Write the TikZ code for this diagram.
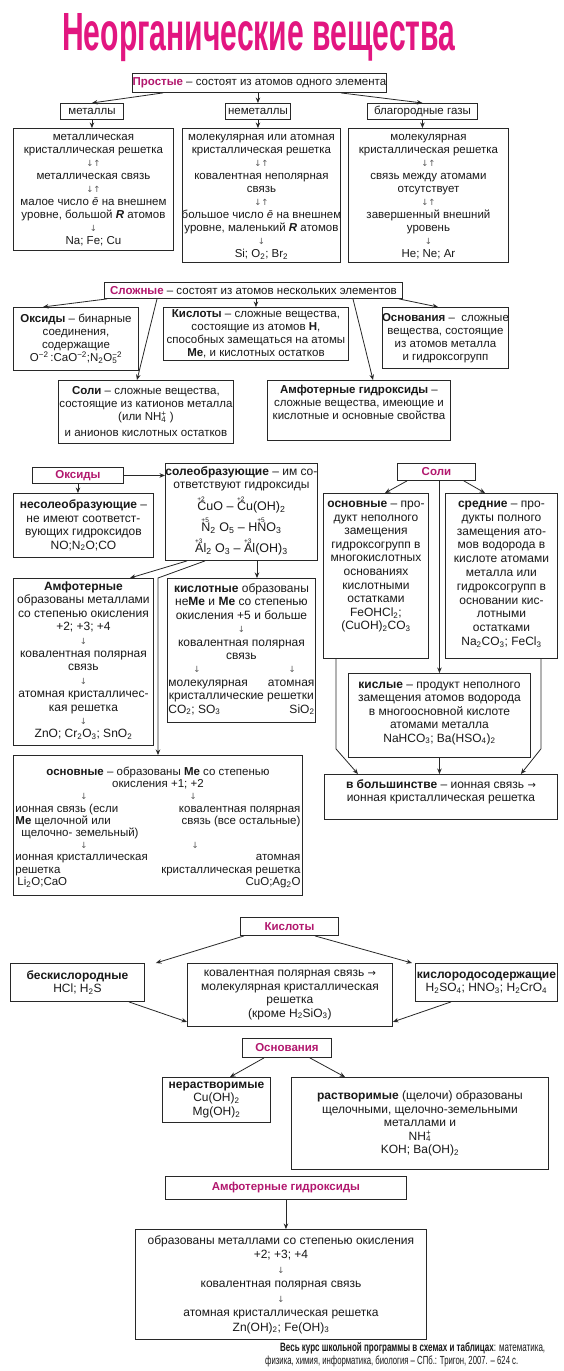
\documentclass[tikz,border=0pt]{standalone}
\usepackage{fontspec}
\usepackage{graphicx}
\setmainfont{Liberation Sans}
\newfontfamily\dv{DejaVu Sans}
\usetikzlibrary{arrows.meta,calc}
\definecolor{mag}{RGB}{178,24,110}
\definecolor{titlec}{RGB}{226,22,128}
\definecolor{lc}{RGB}{40,40,40}
\definecolor{tc}{RGB}{25,25,25}
\definecolor{ac}{RGB}{90,90,90}
\newcommand\fs{\fontsize{11.5pt}{13pt}\selectfont}
\newcommand\fm{\fontsize{12pt}{13.4pt}\selectfont}
\newcommand\da{{\dv\fontsize{8.5pt}{8.5pt}\selectfont\color{ac}↓}}
\newcommand\ua{{\dv\fontsize{8.5pt}{8.5pt}\selectfont\color{ac}↓↑}}
\newcommand\rarr{{\dv\fontsize{10pt}{10pt}\selectfont →}}
\newcommand\sub[1]{\textsubscript{#1}}
\newcommand\sups[1]{\textsuperscript{#1}}
\newcommand\lbl[1]{{\color{mag}\textbf{#1}}}
\newcommand\oxn[2]{\makebox[0pt][l]{\raisebox{9pt}{\fontsize{6.5pt}{6.5pt}\selectfont #1}}#2}
\tikzset{
  bxs/.style={draw=lc, line width=0.9pt, inner sep=0pt, anchor=north west, font=\fs, text=tc},
  arr/.style={draw=lc, line width=0.8pt, -{Stealth[length=5.5pt,width=4.5pt]}},
}
% name, x1, y1, x2, y2, vertical position (c/t), top pad, content
\newcommand\bx[8]{%
  \pgfmathsetmacro\bxw{#4-#2}%
  \pgfmathsetmacro\bxh{#5-#3}%
  \pgfmathsetmacro\bxp{#4-#2+24}%
  \node[bxs, minimum width=\bxw pt, minimum height=\bxh pt] (#1) at (#2,#3)
   {\makebox[0pt]{\parbox[c][\bxh pt][#6]{\bxp pt}{\centering\vspace*{#7pt}#8}}};%
}
\newcommand\st{\rule{0pt}{9pt}}
\begin{document}
\begin{tikzpicture}[x=1pt,y=-1pt]
\useasboundingbox (0,0) rectangle (564,1371);
\fill[white] (0,0) rectangle (564,1371);

\node[anchor=base west, inner sep=0pt, text=titlec] (title) at (62,50)
  {\resizebox{393pt}{37pt}{\bfseries Неорганические вещества}};

% ---------- Простые ----------
\bx{prost}{132}{73}{386}{92}{c}{0}{\lbl{Простые} – состоят из атомов одного элемента}
\bx{met}{60}{103}{123}{119}{c}{0}{металлы}
\bx{nonmet}{225}{103}{290}{119}{c}{0}{неметаллы}
\bx{noble}{367}{103}{477}{119}{c}{0}{благородные газы}
\bx{b1}{13}{128}{173}{250}{t}{3}{\st металлическая\\ кристаллическая решетка\\ \ua\\ металлическая связь\\ \ua\\ малое число \textit{ē} на внешнем\\ уровне, большой \textbf{\textit{R}} атомов\\ \da\\ Na; Fe; Cu}
\bx{b2}{182}{128}{340}{262}{t}{3}{\st молекулярная или атомная\\ кристаллическая решетка\\ \ua\\ ковалентная неполярная\\ связь\\ \ua\\ большое число \textit{ē} на внешнем\\ уровне, маленький \textbf{\textit{R}} атомов\\ \da\\ Si; O\sub{2}; Br\sub{2}}
\bx{b3}{348}{128}{508}{262}{t}{3}{\st молекулярная\\ кристаллическая решетка\\ \ua\\ связь между атомами\\ отсутствует\\ \ua\\ завершенный внешний\\ уровень\\ \da\\ He; Ne; Ar}
\draw[arr] ([xshift=31pt]prost.south west) -- (met.north);
\draw[arr] (nonmet.north |- prost.south) -- (nonmet.north);
\draw[arr] ([xshift=-46pt]prost.south east) -- (noble.north);
\draw[arr] (met.south) -- (met.south |- b1.north);
\draw[arr] (nonmet.south) -- (nonmet.south |- b2.north);
\draw[arr] (noble.south) -- (noble.south |- b3.north);

% ---------- Сложные ----------
\bx{slozh}{104}{282}{402}{298}{c}{0}{\lbl{Сложные} – состоят из атомов нескольких элементов}
\bx{oks2}{13}{307}{138}{370}{c}{0}{\textbf{Оксиды} – бинарные\\ соединения,\\ содержащие\\ O\sups{−2}\,:CaO\sups{−2};N\sub{2}O\rlap{\sub{5}}\sups{−2}}
\bx{kis2}{163}{307}{348}{360}{c}{0}{\textbf{Кислоты} – сложные вещества,\\ состоящие из атомов \textbf{H},\\ способных замещаться на атомы\\ \textbf{Me}, и кислотных остатков}
\bx{osn2}{382}{307}{508}{368}{c}{0}{\textbf{Основания} –\ \ сложные\\ вещества, состоящие\\ из атомов металла\\ и гидроксогрупп}
\bx{soli2}{58}{380}{233}{443}{c}{0}{\textbf{Соли} – сложные вещества,\\ состоящие из катионов металла\\ (или NH\rlap{\sub{4}}\sups{+} )\\[3pt] и анионов кислотных остатков}
\bx{amf2}{267}{380}{450}{440}{t}{4}{\st\textbf{Амфотерные гидроксиды} –\\ сложные вещества, имеющие и\\ кислотные и основные свойства}
\draw[arr] ([xshift=3pt]slozh.south west) -- ([xshift=30pt]oks2.north west);
\draw[arr] ([xshift=53pt]slozh.south west) -- ([xshift=79pt]soli2.north west);
\draw[arr] (kis2.north |- slozh.south) -- (kis2.north);
\draw[arr] ([xshift=249pt]slozh.south west) -- ([xshift=106pt]amf2.north west);
\draw[arr] ([xshift=-4pt]slozh.south east) -- ([xshift=56pt]osn2.north west);

% ---------- Оксиды ----------
\bx{oxh}{32}{467}{123}{483}{c}{0}{\lbl{Оксиды}}
\bx{soleo}{165}{463}{317}{560}{t}{3}{\fm\st\textbf{солеобразующие} – им со-\\ ответствуют гидроксиды\\[5pt]
 {\fontsize{12.5pt}{13pt}\selectfont \oxn{+2}{C}uO – \oxn{+2}{C}u(OH)\sub{2}}\\[4pt]
 {\fontsize{12.5pt}{13pt}\selectfont \oxn{+5}{N}\sub{2} O\sub{5} – H\oxn{+5}{N}O\sub{3}}\\[4pt]
 {\fontsize{12.5pt}{13pt}\selectfont \oxn{+3}{A}l\sub{2} O\sub{3} – \oxn{+3}{A}l(OH)\sub{3}}}
\bx{nesol}{13}{493}{153}{557}{c}{0}{\fm\textbf{несолеобразующие} –\\ не имеют соответст-\\ вующих гидроксидов\\ NO;N\sub{2}O;CO}
\bx{amf3}{13}{578}{153}{745}{t}{3}{\fm\st\textbf{Амфотерные}\\ образованы металлами\\ со степенью окисления\\ +2; +3; +4\\ \da\\ ковалентная полярная\\ связь\\ \da\\ атомная кристалличес-\\ кая решетка\\ \da\\ ZnO; Cr\sub{2}O\sub{3}; SnO\sub{2}}
\bx{kisl3}{167}{578}{315}{722}{t}{5}{\fm\st\textbf{кислотные} образованы\\ не\textbf{Me} и \textbf{Me} со степенью\\ окисления +5 и больше\\ \da\\ ковалентная полярная\\ связь\\
 \makebox[148pt][l]{\hspace*{26pt}\da\hspace*{88pt}\da}\\
 \makebox[146pt][l]{молекулярная\hfill атомная}\\ кристаллические решетки\\
 \makebox[146pt][l]{CO\sub{2}; SO\sub{3}\hfill SiO\sub{2}}}
\bx{osn3}{13}{755}{302}{895}{t}{11}{\fontsize{11.5pt}{12.2pt}\selectfont\st
 \textbf{основные} – образованы \textbf{Me} со степенью\\
 окисления +1; +2\\
 \makebox[285pt][l]{\hspace*{65pt}\da\hspace*{102pt}\da}\\
 \makebox[285pt][l]{ионная связь (если\hfill ковалентная полярная}\\
 \makebox[285pt][l]{\textbf{Me} щелочной или\hfill связь (все остальные)}\\
 \makebox[285pt][l]{\hspace*{6pt}щелочно- земельный)\hfill}\\
 \makebox[285pt][l]{\hspace*{65pt}\da\hspace*{104pt}\da}\\
 \makebox[285pt][l]{ионная кристаллическая\hfill атомная}\\
 \makebox[285pt][l]{решетка\hfill кристаллическая решетка}\\
 \makebox[285pt][l]{\hspace*{2pt}Li\sub{2}O;CaO\hfill CuO;Ag\sub{2}O}}
\coordinate (va) at ([xshift=90pt]kisl3.north west);
\coordinate (vx) at ([xshift=145pt]osn3.north west);
\draw[arr] (oxh.east) -- (oxh.east -| soleo.west);
\draw[arr] (oxh.south) -- (oxh.south |- nesol.north);
\draw[arr] ([xshift=22pt]soleo.south west) -- ([xshift=117pt]amf3.north west);
\draw[arr] ([xshift=40pt]soleo.south west) -- (vx |- amf3.north) -- (vx);
\draw[arr] (va |- soleo.south) -- (va);

% ---------- Соли ----------
\bx{solh}{397}{463}{475}{480}{c}{0}{\lbl{Соли}}
\bx{osns}{323}{493}{428}{658}{t}{5}{\fontsize{12pt}{13.6pt}\selectfont\st\textbf{основные} – про-\\ дукт неполного\\ замещения\\ гидроксогрупп в\\ многокислотных\\ основаниях\\ кислотными\\ остатками\\ FeOHCl\sub{2};\\ (CuOH)\sub{2}CO\sub{3}}
\bx{sred}{445}{493}{557}{658}{t}{5}{\fontsize{12pt}{13.8pt}\selectfont\st\textbf{средние} – про-\\ дукты полного\\ замещения ато-\\ мов водорода в\\ кислоте атомами\\ металла или\\ гидроксогрупп в\\ основании кис-\\ лотными\\ остатками\\ Na\sub{2}CO\sub{3}; FeCl\sub{3}}
\bx{kisly}{348}{673}{530}{757}{t}{6}{\fm\st\textbf{кислые} – продукт неполного\\ замещения атомов водорода\\ в многоосновной кислоте\\ атомами металла\\ NaHCO\sub{3}; Ba(HSO\sub{4})\sub{2}}
\bx{bolsh}{324}{774}{557}{819}{t}{5}{\fm\st\textbf{в большинстве} – ионная связь \rarr\\ ионная кристаллическая решетка}
\coordinate (lb) at ([xshift=13pt,yshift=-90pt]osns.south west);
\coordinate (rb) at ([xshift=-17pt,yshift=-90pt]sred.south east);
\draw[arr] ([xshift=10pt]solh.south west) -- ([xshift=62pt]osns.north west);
\draw[arr] ([xshift=-12pt]solh.south east) -- ([xshift=40pt]sred.north west);
\draw[arr] (kisly.north |- solh.south) -- (kisly.north);
\draw[arr] ([xshift=13pt]osns.south west) -- (lb) -- ([xshift=34pt]bolsh.north west);
\draw[arr] ([xshift=-17pt]sred.south east) -- (rb) -- ([xshift=-37pt]bolsh.north east);
\draw[arr] (kisly.south) -- (kisly.south |- bolsh.north);

% ---------- Кислоты ----------
\bx{kh}{240}{917}{338}{935}{c}{0}{\lbl{Кислоты}}
\bx{bes}{10}{963}{144}{1001}{c}{0}{\fm\textbf{бескислородные}\\ HCl; H\sub{2}S}
\bx{mid4}{187}{963}{392}{1026}{c}{0}{\fm ковалентная полярная связь \rarr\\ молекулярная кристаллическая\\ решетка\\ (кроме H\sub{2}SiO\sub{3})}
\bx{kisl4}{415}{963}{557}{1001}{c}{0}{\fm\textbf{кислородосодержащие}\\ H\sub{2}SO\sub{4}; HNO\sub{3}; H\sub{2}CrO\sub{4}}
\draw[arr] ([xshift=4pt]kh.south west) -- ([xshift=11pt]bes.north east);
\draw[arr] ([xshift=-24pt]kh.south east) -- ([xshift=-3pt]kisl4.north west);
\draw[arr] ([xshift=-16pt]bes.south east) -- ([yshift=5pt]mid4.south west);
\draw[arr] ([xshift=36pt]kisl4.south west) -- ([yshift=5pt]mid4.south east);

% ---------- Основания ----------
\bx{oh}{242}{1038}{331}{1057}{c}{0}{\lbl{Основания}}
\bx{nr}{162}{1077}{270}{1122}{c}{0}{\fm\textbf{нерастворимые}\\ Cu(OH)\sub{2}\\ Mg(OH)\sub{2}}
\bx{rs}{291}{1077}{548}{1169}{c}{0}{\fm\textbf{растворимые} (щелочи) образованы\\ щелочными, щелочно-земельными\\ металлами и\\ NH\rlap{\sub{4}}\sups{+}\\ KOH; Ba(OH)\sub{2}}
\draw[arr] ([xshift=22pt]oh.south west) -- ([xshift=68pt]nr.north west);
\draw[arr] ([xshift=-22pt]oh.south east) -- ([xshift=54pt]rs.north west);

% ---------- Амфотерные гидроксиды ----------
\bx{ah}{165}{1176}{406}{1199}{c}{0}{\lbl{Амфотерные гидроксиды}}
\bx{ab}{135}{1229}{426}{1339}{c}{0}{\fontsize{12pt}{14.5pt}\selectfont образованы металлами со степенью окисления\\ +2; +3; +4\\ \da\\ ковалентная полярная связь\\ \da\\ атомная кристаллическая решетка\\ Zn(OH)\sub{2}; Fe(OH)\sub{3}}
\draw[arr] (ah.south) -- (ah.south |- ab.north);

% ---------- citation ----------
\node[anchor=base west, inner sep=0pt, text=tc] (cit1) at (280,1351)
  {\resizebox{265pt}{9pt}{\textbf{Весь курс школьной программы в схемах и таблицах}: математика,}};
\node[anchor=base west, inner sep=0pt, text=tc] (cit2) at (265,1364)
  {\resizebox{253pt}{8.6pt}{физика, химия, информатика, биология – СПб.: Тригон, 2007. – 624 с.}};
\end{tikzpicture}
\end{document}
